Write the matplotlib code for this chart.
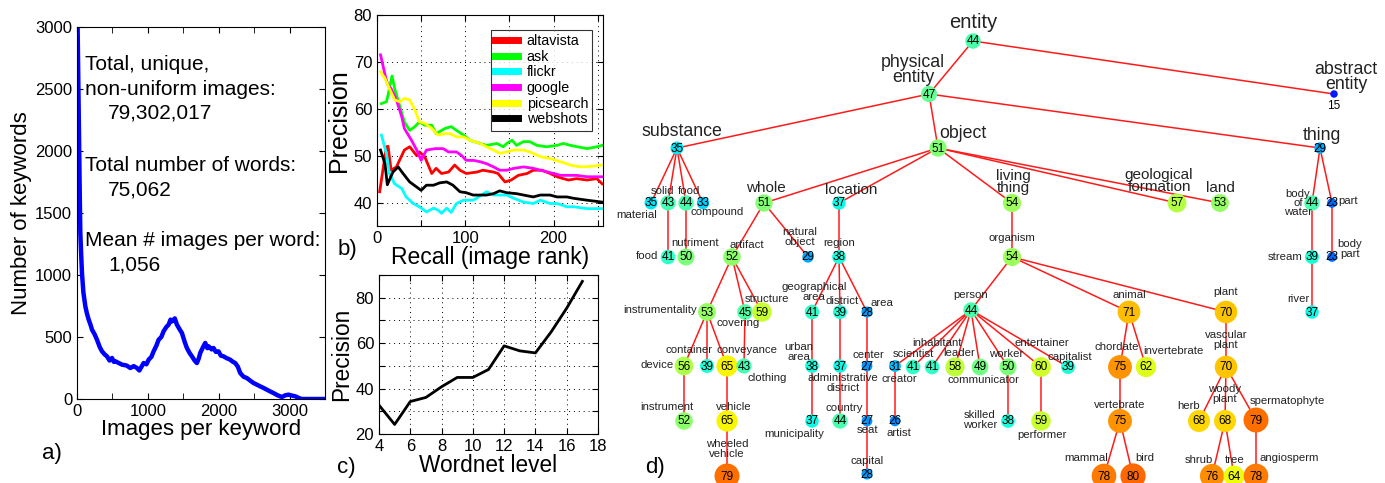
import matplotlib
matplotlib.use("Agg")
import matplotlib.pyplot as plt
import numpy as np
from matplotlib import cm

plt.rcParams['font.family'] = ['Liberation Sans', 'DejaVu Sans']

# ---------------- data: panel a ----------------
hist_x = [0, 9, 20, 28, 40, 47, 60, 70, 90, 118, 140, 165, 190, 212, 250, 282, 320, 353, 390, 423,
          460, 494, 520, 541, 590, 635, 700, 752, 800, 846, 880, 940, 980, 1011, 1050, 1081, 1120,
          1152, 1190, 1222, 1260, 1293, 1320, 1340, 1380, 1410, 1450, 1481, 1520, 1551, 1590, 1622,
          1660, 1692, 1720, 1739, 1780, 1810, 1840, 1857, 1900, 1927, 1960, 1998, 2030, 2068, 2110,
          2162, 2200, 2233, 2270, 2303, 2350, 2397, 2440, 2491, 2540, 2585, 2630, 2679, 2730, 2773,
          2830, 2891, 2940, 2985, 3030, 3079, 3130, 3173, 3300, 3500]
hist_y = [3000, 2990, 2500, 2145, 1600, 1339, 1150, 1016, 860, 747, 690, 640, 600, 559, 520, 478,
          420, 384, 360, 344, 310, 331, 300, 304, 290, 277, 270, 250, 265, 250, 230, 290, 280, 317,
          340, 384, 430, 478, 500, 546, 580, 600, 640, 626, 650, 600, 560, 532, 460, 411, 370, 344,
          310, 290, 330, 371, 420, 452, 410, 425, 400, 411, 380, 384, 350, 344, 330, 317, 300, 290,
          260, 210, 180, 169, 150, 129, 115, 102, 90, 75, 60, 48, 30, 16, 30, 35, 28, 22, 8, 0, 0, 0]

# ---------------- data: panel b ----------------
engines = ['altavista', 'ask', 'flickr', 'google', 'picsearch', 'webshots']
engine_colors = ['#ff0000', '#00ff00', '#00ffff', '#ff00ff', '#ffff00', '#000000']
alta_x = [3, 10.6, 12.5, 16, 22, 31, 37, 45, 48, 54, 62, 67, 73, 81, 88, 94, 101, 113, 120, 132, 137,
          145, 152, 160, 170, 177, 187, 196, 204, 211, 217, 226, 238, 249, 255]
alta_y = [42.3, 51.9, 52.0, 46.9, 47.6, 51.2, 51.9, 50.0, 50.8, 49.8, 46.2, 47.3, 46.2, 46.5, 48.0,
          46.9, 46.2, 46.5, 46.9, 46.5, 46.2, 44.4, 44.8, 45.8, 46.2, 46.9, 46.9, 46.2, 45.5, 45.1,
          44.8, 45.1, 44.8, 45.1, 44.0]
ask_x = [5, 10.6, 12.5, 14, 17, 20, 26, 31, 37, 43, 48, 54, 62, 67, 77, 84, 90, 98, 105, 117, 124,
         136, 143, 147, 153, 158, 166, 173, 181, 192, 204, 211, 219, 238, 249, 255]
ask_y = [61.1, 61.5, 62.9, 64.3, 67.0, 64.3, 60.4, 57.2, 55.4, 56.2, 57.2, 56.5, 56.5, 54.7, 55.8,
         56.2, 55.4, 54.4, 53.3, 52.6, 52.2, 52.6, 51.9, 52.6, 53.3, 52.2, 53.0, 53.0, 52.2, 51.9,
         52.2, 52.6, 52.2, 51.5, 51.9, 52.2]
flickr_x = [5, 10.6, 14, 20, 28, 33, 41, 48, 56, 64, 69, 73, 79, 84, 90, 98, 109, 115, 124, 132,
            139, 147, 155, 166, 177, 185, 196, 204, 215, 223, 238, 255]
flickr_y = [54.4, 50.5, 46.2, 44.0, 43.0, 41.2, 39.8, 39.1, 38.0, 38.8, 38.4, 37.7, 38.8, 37.9,
            39.8, 40.5, 40.5, 41.2, 42.3, 41.6, 41.6, 41.6, 40.9, 40.1, 39.8, 40.5, 39.8, 39.8,
            39.1, 39.1, 38.7, 38.7]
google_x = [4, 7, 10, 12.5, 16, 22, 28, 31, 39, 45, 50, 56, 66, 75, 81, 90, 96, 101, 109, 117, 124,
            132, 139, 147, 155, 166, 177, 185, 200, 208, 215, 226, 238, 255]
google_y = [71.5, 69.0, 66.5, 65.0, 64.3, 61.9, 58.3, 55.8, 53.3, 51.2, 49.0, 51.2, 51.5, 51.5,
            50.8, 50.8, 50.0, 49.0, 49.0, 48.7, 48.3, 47.6, 46.9, 46.9, 47.3, 47.6, 47.3, 46.9,
            46.2, 45.8, 45.8, 45.8, 45.5, 45.5]
pic_x = [4, 9, 14, 20, 26, 31, 37, 43, 48, 54, 62, 69, 77, 83, 90, 98, 105, 117, 124, 132, 139, 147,
         155, 166, 173, 185, 196, 208, 219, 230, 242, 255]
pic_y = [67.9, 66.5, 64.3, 61.9, 61.5, 62.2, 61.9, 59.7, 57.2, 56.9, 55.8, 54.4, 54.7, 54.7, 54.0,
         54.0, 53.3, 52.6, 51.9, 51.2, 50.5, 50.8, 51.2, 51.2, 50.8, 49.8, 49.4, 48.7, 48.0, 47.6,
         47.7, 48.0]
web_x = [4, 9, 11.7, 14, 18, 24, 29.5, 37, 45, 50, 56, 64, 71, 79, 86, 94, 101, 109, 117, 124, 132,
         139, 147, 158, 166, 177, 185, 196, 204, 215, 223, 238, 255]
web_y = [51.2, 48.3, 43.8, 44.8, 46.5, 47.6, 46.2, 44.4, 43.3, 42.6, 43.7, 43.7, 44.2, 44.4, 43.7,
         42.3, 42.1, 41.6, 41.6, 41.6, 41.9, 42.5, 42.1, 41.9, 41.6, 41.2, 41.6, 41.6, 41.2, 41.2,
         40.9, 40.5, 40.1]

# ---------------- data: panel c ----------------
wn_level = [4, 5, 6, 7, 8, 9, 10, 11, 12, 13, 14, 15, 16, 17]
wn_precision = [32.7, 24.2, 34.3, 36.1, 40.8, 44.9, 44.9, 48.4, 58.8, 56.6, 55.7, 64.9, 75.4, 87.2]

# ---------------- data: panel d (tree) ----------------
node_keys = ['entity', 'physical entity', 'abstract entity', 'substance', 'object', 'thing',
             'material', 'solid', 'food', 'compound', 'whole', 'location', 'living thing',
             'geological formation', 'land', 'body of water', 'part', 'food2', 'nutriment',
             'artifact', 'natural object', 'region', 'organism', 'stream', 'body part', 'river',
             'instrumentality', 'covering', 'structure', 'geographical area', 'district', 'area',
             'person', 'animal', 'plant', 'device', 'container', 'conveyance', 'clothing',
             'urban area', 'administrative district', 'center', 'creator', 'scientist',
             'inhabitant', 'leader', 'communicator', 'worker', 'entertainer', 'capitalist',
             'chordate', 'invertebrate', 'vascular plant', 'instrument', 'vehicle', 'municipality',
             'country', 'seat', 'artist', 'skilled worker', 'performer', 'vertebrate', 'herb',
             'woody plant', 'spermatophyte', 'wheeled vehicle', 'capital', 'mammal', 'bird',
             'shrub', 'tree', 'angiosperm']
node_values = [44, 47, 15, 35, 51, 29,
               35, 43, 44, 33, 51, 37, 54,
               57, 53, 44, 23, 41, 50,
               52, 29, 38, 54, 39, 23, 37,
               53, 45, 59, 41, 39, 28,
               44, 71, 70, 56, 39, 65, 43,
               38, 37, 27, 31, 41,
               41, 58, 49, 50, 60, 39,
               75, 62, 70, 52, 65, 37,
               44, 27, 26, 38, 59, 75, 68,
               68, 79, 79, 28, 78, 80,
               76, 64, 78]
node_parents = [None, 'entity', 'entity', 'physical entity', 'physical entity', 'physical entity',
                'substance', 'substance', 'substance', 'substance', 'object', 'object', 'object',
                'object', 'object', 'thing', 'thing', 'solid', 'food',
                'whole', 'whole', 'location', 'living thing', 'body of water', 'part', 'stream',
                'artifact', 'artifact', 'artifact', 'region', 'region', 'region',
                'organism', 'organism', 'organism', 'instrumentality', 'instrumentality',
                'instrumentality', 'covering',
                'geographical area', 'district', 'area', 'person', 'person',
                'person', 'person', 'person', 'person', 'person', 'person',
                'animal', 'animal', 'plant', 'device', 'conveyance', 'urban area',
                'administrative district', 'center', 'creator', 'worker', 'entertainer',
                'chordate', 'vascular plant',
                'vascular plant', 'vascular plant', 'vehicle', 'seat', 'vertebrate', 'vertebrate',
                'woody plant', 'woody plant', 'spermatophyte']
node_labels = {'physical entity': 'physical\nentity', 'abstract entity': 'abstract\nentity',
               'living thing': 'living\nthing', 'geological formation': 'geological\nformation',
               'body of water': 'body\nof\nwater', 'food2': 'food', 'natural object': 'natural\nobject',
               'body part': 'body\npart', 'geographical area': 'geographical\narea',
               'urban area': 'urban\narea', 'administrative district': 'administrative\ndistrict',
               'vascular plant': 'vascular\nplant', 'skilled worker': 'skilled\nworker',
               'woody plant': 'woody\nplant', 'wheeled vehicle': 'wheeled\nvehicle'}

# ---------------- layout (pixel positions of the tree drawing) ----------------
node_xy = {
    'entity': (973, 41), 'physical entity': (929, 94), 'abstract entity': (1334, 94),
    'substance': (677, 148), 'object': (938, 148), 'thing': (1320, 148),
    'material': (651, 203), 'solid': (668, 203), 'food': (686, 203), 'compound': (703, 203),
    'whole': (764, 203), 'location': (839, 203), 'living thing': (1012, 203),
    'geological formation': (1177, 203), 'land': (1220, 203), 'body of water': (1312, 203),
    'part': (1332, 203), 'food2': (668, 257), 'nutriment': (686, 257), 'artifact': (732, 257),
    'natural object': (808, 257), 'region': (839, 257), 'organism': (1012, 257),
    'stream': (1312, 257), 'body part': (1332, 257), 'river': (1312, 312),
    'instrumentality': (707, 312), 'covering': (745, 312), 'structure': (762, 312),
    'geographical area': (812, 312), 'district': (840, 312), 'area': (867, 312),
    'person': (971, 310), 'animal': (1129, 312), 'plant': (1226, 312),
    'device': (684, 366), 'container': (707, 366), 'conveyance': (727, 366), 'clothing': (744, 366),
    'urban area': (812, 366), 'administrative district': (840, 366), 'center': (867, 366),
    'creator': (895, 366), 'scientist': (913, 367), 'inhabitant': (932, 367), 'leader': (955, 367),
    'communicator': (980, 367), 'worker': (1008, 367), 'entertainer': (1041, 367),
    'capitalist': (1068, 367), 'chordate': (1120, 367), 'invertebrate': (1146, 367),
    'vascular plant': (1226, 367), 'instrument': (684, 421), 'vehicle': (727, 421),
    'municipality': (812, 421), 'country': (840, 421), 'seat': (867, 421), 'artist': (895, 421),
    'skilled worker': (1008, 421), 'performer': (1041, 421), 'vertebrate': (1120, 421),
    'herb': (1199, 421), 'woody plant': (1225, 421), 'spermatophyte': (1256, 420),
    'wheeled vehicle': (727, 476), 'capital': (867, 474), 'mammal': (1104, 476), 'bird': (1133, 476),
    'shrub': (1212, 476), 'tree': (1234, 476), 'angiosperm': (1256, 476)}
# label position and size class (L large, M medium, m mid, S small)
label_xy = {
    'entity': (973, 23, 'L'), 'physical entity': (913, 70, 'M'), 'abstract entity': (1346, 77, 'M'),
    'substance': (682, 132, 'M'), 'object': (963, 133, 'M'), 'thing': (1322, 136, 'M'),
    'material': (637, 215, 'S'), 'solid': (662, 191, 'S'), 'food': (689, 191, 'S'),
    'compound': (717, 212, 'S'), 'whole': (766, 188, 'm'), 'location': (851, 190, 'm'),
    'living thing': (1013, 182, 'm'), 'geological formation': (1159, 181, 'm'),
    'land': (1220, 188, 'm'), 'body of water': (1298, 203, 'S'), 'part': (1348, 201, 'S'),
    'food2': (647, 256, 'S'), 'nutriment': (695, 243, 'S'), 'artifact': (747, 245, 'S'),
    'natural object': (800, 237, 'S'), 'region': (839, 243, 'S'), 'organism': (1012, 238, 'S'),
    'stream': (1285, 257, 'S'), 'body part': (1350, 249, 'S'), 'river': (1298, 299, 'S'),
    'instrumentality': (660, 310, 'S'), 'covering': (738, 323, 'S'), 'structure': (767, 299, 'S'),
    'geographical area': (814, 292, 'S'), 'district': (842, 301, 'S'), 'area': (882, 303, 'S'),
    'person': (971, 295, 'S'), 'animal': (1129, 295, 'S'), 'plant': (1226, 292, 'S'),
    'device': (657, 365, 'S'), 'container': (689, 350, 'S'), 'conveyance': (747, 350, 'S'),
    'clothing': (767, 378, 'S'), 'urban area': (799, 352, 'S'),
    'administrative district': (843, 383, 'S'), 'center': (868, 355, 'S'),
    'creator': (899, 379, 'S'), 'scientist': (913, 354, 'S'), 'inhabitant': (937, 343, 'S'),
    'leader': (959, 353, 'S'), 'communicator': (983, 380, 'S'), 'worker': (1006, 354, 'S'),
    'entertainer': (1042, 343, 'S'), 'capitalist': (1070, 357, 'S'), 'chordate': (1117, 347, 'S'),
    'invertebrate': (1173, 351, 'S'), 'vascular plant': (1226, 340, 'S'),
    'instrument': (667, 407, 'S'), 'vehicle': (734, 407, 'S'), 'municipality': (794, 434, 'S'),
    'country': (844, 408, 'S'), 'seat': (868, 430, 'S'), 'artist': (899, 433, 'S'),
    'skilled worker': (980, 420, 'S'), 'performer': (1042, 435, 'S'), 'vertebrate': (1120, 405, 'S'),
    'herb': (1189, 406, 'S'), 'woody plant': (1225, 394, 'S'), 'spermatophyte': (1287, 401, 'S'),
    'wheeled vehicle': (727, 449, 'S'), 'capital': (867, 461, 'S'), 'mammal': (1086, 458, 'S'),
    'bird': (1145, 458, 'S'), 'shrub': (1199, 460, 'S'), 'tree': (1235, 460, 'S'),
    'angiosperm': (1289, 458, 'S')}
size_pt = {'L': 14.5, 'M': 12.8, 'm': 11, 'S': 8.2}

W, H = 1385, 483
fig = plt.figure(figsize=(W / 100, H / 100), dpi=100)


def px_axes(l, t, r, b):
    return fig.add_axes([l / W, 1 - b / H, (r - l) / W, (b - t) / H])


grid_style = dict(color='black', linestyle=(0, (1, 4)), linewidth=0.7)
TICK = 12

# ---------------- panel a ----------------
ax = px_axes(77, 27, 325, 399)
ax.plot(hist_x, hist_y, color='#0000ff', linewidth=3.2, solid_joinstyle='round')
ax.set_xlim(0, 3500)
ax.set_ylim(0, 3000)
ax.set_xticks([0, 1000, 2000, 3000])
ax.set_xticks([500, 1500, 2500], minor=True)
ax.set_yticks(np.arange(0, 3001, 500))
ax.tick_params(direction='in', top=True, right=True, labelsize=TICK, length=4, which='both')
ax.set_xlabel('Images per keyword', fontsize=16, labelpad=0)
ax.set_ylabel('Number of keywords', fontsize=16, labelpad=2)
txt = [('Total, unique,', 0.032, 0.900), ('non-uniform images:', 0.032, 0.831),
       ('79,302,017', 0.125, 0.769), ('Total number of words:', 0.032, 0.629),
       ('75,062', 0.125, 0.562), ('Mean # images per word:', 0.032, 0.427),
       ('1,056', 0.125, 0.360)]
for s, x, y in txt:
    ax.text(x, y, s, transform=ax.transAxes, fontsize=15, va='center', ha='left')
fig.text(42 / W, 1 - 453 / H, 'a)', fontsize=16, va='center', ha='left')

# ---------------- panel b ----------------
ax = px_axes(377, 15, 603, 226)
series = [(alta_x, alta_y), (ask_x, ask_y), (flickr_x, flickr_y), (google_x, google_y),
          (pic_x, pic_y), (web_x, web_y)]
for (xs, ys), name, c in zip(series, engines, engine_colors):
    ax.plot(xs, ys, color=c, linewidth=2, label=name)
ax.set_xlim(0, 256)
ax.set_ylim(35, 80)
ax.set_xticks(np.arange(0, 251, 50))
ax.set_xticklabels(['0', '', '100', '', '200', ''])
ax.set_yticks(np.arange(40, 81, 10))
ax.grid(True, **grid_style)
ax.tick_params(direction='in', top=True, right=True, labelsize=TICK, length=4)
ax.set_xlabel('Recall (image rank)', fontsize=16.5, labelpad=0)
ax.set_ylabel('Precision', fontsize=18, labelpad=2)
leg = ax.legend(loc='upper right', fontsize=10.3, frameon=True, fancybox=False,
                edgecolor='black', handlelength=1.6, handletextpad=0.6, labelspacing=0.12,
                borderpad=0.3, bbox_to_anchor=(0.985, 0.965))
leg.get_frame().set_linewidth(0.8)
for h in leg.get_lines():
    h.set_linewidth(5)
fig.text(338 / W, 1 - 249 / H, 'b)', fontsize=16, va='center', ha='left')

# ---------------- panel c ----------------
ax = px_axes(379, 275, 598, 434)
ax.plot(wn_level, wn_precision, color='black', linewidth=2)
ax.set_xlim(4, 18)
ax.set_ylim(20, 90)
ax.set_xticks(np.arange(4, 19, 2))
ax.set_yticks(np.arange(20, 91, 10))
ax.set_yticklabels(['20', '', '40', '', '60', '', '80', ''])
ax.grid(True, **grid_style)
ax.tick_params(direction='in', top=True, right=True, labelsize=TICK, length=4)
ax.set_xlabel('Wordnet level', fontsize=16.3, labelpad=0)
ax.set_ylabel('Precision', fontsize=16.3, labelpad=2)
fig.text(337 / W, 1 - 468 / H, 'c)', fontsize=16, va='center', ha='left')

# ---------------- panel d ----------------
ax = fig.add_axes([610 / W, 0, (W - 610) / W, 1])
ax.set_xlim(610, W)
ax.set_ylim(H, 0)
ax.axis('off')
vals = dict(zip(node_keys, node_values))
for k, p in zip(node_keys, node_parents):
    if p is None:
        continue
    x0, y0 = node_xy[p]
    x1, y1 = node_xy[k]
    ax.plot([x0, x1], [y0, y1], color='#ff1a1a', linewidth=1.1, zorder=1)
xs = [node_xy[k][0] for k in node_keys]
ys = [node_xy[k][1] for k in node_keys]
diam = np.array([3.4 + 0.273 * v for v in node_values])
ax.scatter(xs, ys, s=(diam * 0.72) ** 2, c=[cm.jet(v / 100) for v in node_values],
           edgecolors='none', zorder=2)
for k, v in zip(node_keys, node_values):
    x, y = node_xy[k]
    if v < 20:
        ax.text(x, y + 12, str(v), fontsize=8.5, ha='center', va='center', zorder=3)
    else:
        ax.text(x, y + 0.5, str(v), fontsize=8.5, ha='center', va='center', zorder=3)
    lx, ly, sc = label_xy[k]
    ax.text(lx, ly, node_labels.get(k, k), fontsize=size_pt[sc], ha='center', va='center',
            color='#222222', linespacing=0.88, zorder=3)
fig.text(645 / W, 1 - 468 / H, 'd)', fontsize=16, va='center', ha='left')

fig.savefig('out.png', dpi=100)
